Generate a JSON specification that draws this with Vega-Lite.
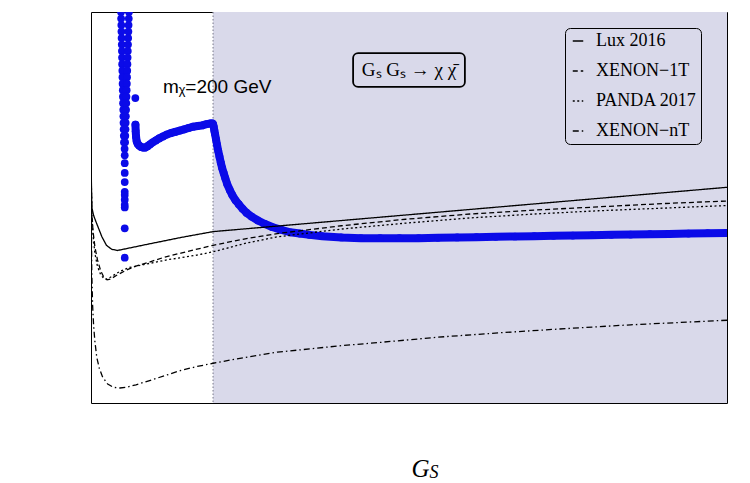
{
  "$schema": "https://vega.github.io/schema/vega-lite/v6.json",
  "width": 636,
  "height": 391,
  "autosize": {"type": "none"},
  "padding": {"left": 91, "top": 12, "right": 23, "bottom": 80},
  "background": "white",
  "datasets": {
    "relic": [
      {"mass": 56.7, "sigma": -41.95, "branch": "res"},
      {"mass": 56.7, "sigma": -42.0, "branch": "res"},
      {"mass": 56.9, "sigma": -42.1, "branch": "res"},
      {"mass": 57.2, "sigma": -42.2, "branch": "res"},
      {"mass": 57.4, "sigma": -42.3, "branch": "res"},
      {"mass": 57.6, "sigma": -42.4, "branch": "res"},
      {"mass": 57.9, "sigma": -42.5, "branch": "res"},
      {"mass": 58.1, "sigma": -42.6, "branch": "res"},
      {"mass": 58.3, "sigma": -42.7, "branch": "res"},
      {"mass": 58.5, "sigma": -42.8, "branch": "res"},
      {"mass": 58.8, "sigma": -42.9, "branch": "res"},
      {"mass": 59.0, "sigma": -43.0, "branch": "res"},
      {"mass": 59.2, "sigma": -43.1, "branch": "res"},
      {"mass": 59.5, "sigma": -43.2, "branch": "res"},
      {"mass": 59.7, "sigma": -43.3, "branch": "res"},
      {"mass": 59.9, "sigma": -43.4, "branch": "res"},
      {"mass": 60.2, "sigma": -43.5, "branch": "res"},
      {"mass": 60.4, "sigma": -43.6, "branch": "res"},
      {"mass": 60.6, "sigma": -43.7, "branch": "res"},
      {"mass": 60.8, "sigma": -43.8, "branch": "res"},
      {"mass": 61.1, "sigma": -43.9, "branch": "res"},
      {"mass": 61.3, "sigma": -44.0, "branch": "res"},
      {"mass": 69.1, "sigma": -41.95, "branch": "res"},
      {"mass": 69.1, "sigma": -42.0, "branch": "res"},
      {"mass": 68.8, "sigma": -42.1, "branch": "res"},
      {"mass": 68.5, "sigma": -42.2, "branch": "res"},
      {"mass": 68.2, "sigma": -42.3, "branch": "res"},
      {"mass": 67.9, "sigma": -42.4, "branch": "res"},
      {"mass": 67.6, "sigma": -42.5, "branch": "res"},
      {"mass": 67.3, "sigma": -42.6, "branch": "res"},
      {"mass": 67.0, "sigma": -42.7, "branch": "res"},
      {"mass": 66.7, "sigma": -42.8, "branch": "res"},
      {"mass": 66.4, "sigma": -42.9, "branch": "res"},
      {"mass": 66.1, "sigma": -43.0, "branch": "res"},
      {"mass": 65.8, "sigma": -43.1, "branch": "res"},
      {"mass": 65.5, "sigma": -43.2, "branch": "res"},
      {"mass": 65.2, "sigma": -43.3, "branch": "res"},
      {"mass": 64.9, "sigma": -43.4, "branch": "res"},
      {"mass": 64.6, "sigma": -43.5, "branch": "res"},
      {"mass": 64.3, "sigma": -43.6, "branch": "res"},
      {"mass": 64.0, "sigma": -43.7, "branch": "res"},
      {"mass": 63.7, "sigma": -43.8, "branch": "res"},
      {"mass": 63.4, "sigma": -43.9, "branch": "res"},
      {"mass": 63.1, "sigma": -44.0, "branch": "res"},
      {"mass": 62.3, "sigma": -44.1, "branch": "res"},
      {"mass": 62.5, "sigma": -44.2, "branch": "res"},
      {"mass": 62.5, "sigma": -44.32, "branch": "res"},
      {"mass": 62.5, "sigma": -44.47, "branch": "res"},
      {"mass": 62.5, "sigma": -44.61, "branch": "res"},
      {"mass": 62.5, "sigma": -44.76, "branch": "res"},
      {"mass": 62.5, "sigma": -44.81, "branch": "res"},
      {"mass": 62.5, "sigma": -44.88, "branch": "res"},
      {"mass": 62.5, "sigma": -44.96, "branch": "res"},
      {"mass": 62.5, "sigma": -45.0, "branch": "res"},
      {"mass": 62.5, "sigma": -45.32, "branch": "res"},
      {"mass": 62.5, "sigma": -45.77, "branch": "res"},
      {"mass": 79.0, "sigma": -43.32, "branch": "res"},
      {"mass": 79.2, "sigma": -43.73, "branch": "main"},
      {"mass": 79.6, "sigma": -43.83, "branch": "main"},
      {"mass": 80.2, "sigma": -43.92, "branch": "main"},
      {"mass": 81.0, "sigma": -43.98, "branch": "main"},
      {"mass": 82.5, "sigma": -44.02, "branch": "main"},
      {"mass": 85.0, "sigma": -44.05, "branch": "main"},
      {"mass": 88.0, "sigma": -44.07, "branch": "main"},
      {"mass": 91.0, "sigma": -44.08, "branch": "main"},
      {"mass": 94.5, "sigma": -44.08, "branch": "main"},
      {"mass": 98.0, "sigma": -44.06, "branch": "main"},
      {"mass": 102.0, "sigma": -44.03, "branch": "main"},
      {"mass": 106.0, "sigma": -44.0, "branch": "main"},
      {"mass": 111.0, "sigma": -43.97, "branch": "main"},
      {"mass": 116.0, "sigma": -43.94, "branch": "main"},
      {"mass": 122.0, "sigma": -43.91, "branch": "main"},
      {"mass": 128.0, "sigma": -43.88, "branch": "main"},
      {"mass": 134.0, "sigma": -43.86, "branch": "main"},
      {"mass": 141.0, "sigma": -43.84, "branch": "main"},
      {"mass": 148.0, "sigma": -43.82, "branch": "main"},
      {"mass": 155.0, "sigma": -43.8, "branch": "main"},
      {"mass": 162.0, "sigma": -43.78, "branch": "main"},
      {"mass": 169.0, "sigma": -43.76, "branch": "main"},
      {"mass": 176.0, "sigma": -43.75, "branch": "main"},
      {"mass": 183.0, "sigma": -43.74, "branch": "main"},
      {"mass": 190.0, "sigma": -43.72, "branch": "main"},
      {"mass": 196.0, "sigma": -43.71, "branch": "main"},
      {"mass": 199.0, "sigma": -43.71, "branch": "main"},
      {"mass": 200.0, "sigma": -43.72, "branch": "main"},
      {"mass": 201.0, "sigma": -43.76, "branch": "main"},
      {"mass": 202.0, "sigma": -43.82, "branch": "main"},
      {"mass": 203.0, "sigma": -43.87, "branch": "main"},
      {"mass": 204.5, "sigma": -43.95, "branch": "main"},
      {"mass": 206.0, "sigma": -44.03, "branch": "main"},
      {"mass": 208.0, "sigma": -44.13, "branch": "main"},
      {"mass": 210.0, "sigma": -44.22, "branch": "main"},
      {"mass": 212.0, "sigma": -44.31, "branch": "main"},
      {"mass": 214.0, "sigma": -44.39, "branch": "main"},
      {"mass": 216.5, "sigma": -44.47, "branch": "main"},
      {"mass": 219.0, "sigma": -44.55, "branch": "main"},
      {"mass": 222.0, "sigma": -44.64, "branch": "main"},
      {"mass": 226.0, "sigma": -44.73, "branch": "main"},
      {"mass": 230.0, "sigma": -44.81, "branch": "main"},
      {"mass": 235.0, "sigma": -44.89, "branch": "main"},
      {"mass": 240.0, "sigma": -44.95, "branch": "main"},
      {"mass": 246.0, "sigma": -45.02, "branch": "main"},
      {"mass": 252.0, "sigma": -45.08, "branch": "main"},
      {"mass": 260.0, "sigma": -45.14, "branch": "main"},
      {"mass": 270.0, "sigma": -45.2, "branch": "main"},
      {"mass": 280.0, "sigma": -45.25, "branch": "main"},
      {"mass": 292.0, "sigma": -45.3, "branch": "main"},
      {"mass": 305.0, "sigma": -45.34, "branch": "main"},
      {"mass": 320.0, "sigma": -45.38, "branch": "main"},
      {"mass": 335.0, "sigma": -45.4, "branch": "main"},
      {"mass": 350.0, "sigma": -45.42, "branch": "main"},
      {"mass": 370.0, "sigma": -45.44, "branch": "main"},
      {"mass": 400.0, "sigma": -45.46, "branch": "main"},
      {"mass": 430.0, "sigma": -45.47, "branch": "main"},
      {"mass": 460.0, "sigma": -45.47, "branch": "main"},
      {"mass": 490.0, "sigma": -45.47, "branch": "main"},
      {"mass": 520.0, "sigma": -45.47, "branch": "main"},
      {"mass": 550.0, "sigma": -45.465, "branch": "main"},
      {"mass": 580.0, "sigma": -45.46, "branch": "main"},
      {"mass": 610.0, "sigma": -45.455, "branch": "main"},
      {"mass": 640.0, "sigma": -45.45, "branch": "main"},
      {"mass": 670.0, "sigma": -45.445, "branch": "main"},
      {"mass": 700.0, "sigma": -45.44, "branch": "main"},
      {"mass": 730.0, "sigma": -45.435, "branch": "main"},
      {"mass": 760.0, "sigma": -45.43, "branch": "main"},
      {"mass": 790.0, "sigma": -45.425, "branch": "main"},
      {"mass": 820.0, "sigma": -45.42, "branch": "main"},
      {"mass": 850.0, "sigma": -45.415, "branch": "main"},
      {"mass": 880.0, "sigma": -45.41, "branch": "main"},
      {"mass": 910.0, "sigma": -45.405, "branch": "main"},
      {"mass": 940.0, "sigma": -45.4, "branch": "main"},
      {"mass": 970.0, "sigma": -45.395, "branch": "main"},
      {"mass": 1000.0, "sigma": -45.39, "branch": "main"}
    ],
    "limits": [
      {"experiment": "Lux 2016", "mass": 10, "sigma": -43.75},
      {"experiment": "Lux 2016", "mass": 10.6, "sigma": -44.6},
      {"experiment": "Lux 2016", "mass": 11.3, "sigma": -45.0},
      {"experiment": "Lux 2016", "mass": 14, "sigma": -45.12},
      {"experiment": "Lux 2016", "mass": 17, "sigma": -45.2},
      {"experiment": "Lux 2016", "mass": 21, "sigma": -45.3},
      {"experiment": "Lux 2016", "mass": 27, "sigma": -45.45},
      {"experiment": "Lux 2016", "mass": 34, "sigma": -45.58},
      {"experiment": "Lux 2016", "mass": 42, "sigma": -45.64},
      {"experiment": "Lux 2016", "mass": 51, "sigma": -45.66},
      {"experiment": "Lux 2016", "mass": 100, "sigma": -45.56},
      {"experiment": "Lux 2016", "mass": 150, "sigma": -45.46},
      {"experiment": "Lux 2016", "mass": 200, "sigma": -45.37},
      {"experiment": "Lux 2016", "mass": 400, "sigma": -45.2},
      {"experiment": "Lux 2016", "mass": 600, "sigma": -45.03},
      {"experiment": "Lux 2016", "mass": 800, "sigma": -44.86},
      {"experiment": "Lux 2016", "mass": 1000, "sigma": -44.69},
      {"experiment": "XENON−1T", "mass": 10, "sigma": -43.8},
      {"experiment": "XENON−1T", "mass": 10.6, "sigma": -44.7},
      {"experiment": "XENON−1T", "mass": 11.3, "sigma": -45.05},
      {"experiment": "XENON−1T", "mass": 13, "sigma": -45.35},
      {"experiment": "XENON−1T", "mass": 16, "sigma": -45.6},
      {"experiment": "XENON−1T", "mass": 20, "sigma": -45.8},
      {"experiment": "XENON−1T", "mass": 25, "sigma": -45.97},
      {"experiment": "XENON−1T", "mass": 30, "sigma": -46.07},
      {"experiment": "XENON−1T", "mass": 35, "sigma": -46.11},
      {"experiment": "XENON−1T", "mass": 40, "sigma": -46.1},
      {"experiment": "XENON−1T", "mass": 50, "sigma": -46.04},
      {"experiment": "XENON−1T", "mass": 65, "sigma": -45.96},
      {"experiment": "XENON−1T", "mass": 80, "sigma": -45.9},
      {"experiment": "XENON−1T", "mass": 100, "sigma": -45.84},
      {"experiment": "XENON−1T", "mass": 125, "sigma": -45.76},
      {"experiment": "XENON−1T", "mass": 150, "sigma": -45.7},
      {"experiment": "XENON−1T", "mass": 175, "sigma": -45.64},
      {"experiment": "XENON−1T", "mass": 200, "sigma": -45.58},
      {"experiment": "XENON−1T", "mass": 250, "sigma": -45.48},
      {"experiment": "XENON−1T", "mass": 300, "sigma": -45.4},
      {"experiment": "XENON−1T", "mass": 400, "sigma": -45.28},
      {"experiment": "XENON−1T", "mass": 500, "sigma": -45.18},
      {"experiment": "XENON−1T", "mass": 600, "sigma": -45.1},
      {"experiment": "XENON−1T", "mass": 700, "sigma": -45.04},
      {"experiment": "XENON−1T", "mass": 800, "sigma": -44.99},
      {"experiment": "XENON−1T", "mass": 900, "sigma": -44.94},
      {"experiment": "XENON−1T", "mass": 1000, "sigma": -44.9},
      {"experiment": "PANDA 2017", "mass": 10, "sigma": -43.8},
      {"experiment": "PANDA 2017", "mass": 10.6, "sigma": -44.7},
      {"experiment": "PANDA 2017", "mass": 11.3, "sigma": -45.05},
      {"experiment": "PANDA 2017", "mass": 13, "sigma": -45.4},
      {"experiment": "PANDA 2017", "mass": 16, "sigma": -45.7},
      {"experiment": "PANDA 2017", "mass": 20, "sigma": -45.9},
      {"experiment": "PANDA 2017", "mass": 25, "sigma": -46.03},
      {"experiment": "PANDA 2017", "mass": 30, "sigma": -46.09},
      {"experiment": "PANDA 2017", "mass": 35, "sigma": -46.1},
      {"experiment": "PANDA 2017", "mass": 42, "sigma": -46.06},
      {"experiment": "PANDA 2017", "mass": 55, "sigma": -45.98},
      {"experiment": "PANDA 2017", "mass": 70, "sigma": -45.92},
      {"experiment": "PANDA 2017", "mass": 90, "sigma": -45.88},
      {"experiment": "PANDA 2017", "mass": 110, "sigma": -45.84},
      {"experiment": "PANDA 2017", "mass": 130, "sigma": -45.8},
      {"experiment": "PANDA 2017", "mass": 150, "sigma": -45.77},
      {"experiment": "PANDA 2017", "mass": 175, "sigma": -45.73},
      {"experiment": "PANDA 2017", "mass": 200, "sigma": -45.68},
      {"experiment": "PANDA 2017", "mass": 250, "sigma": -45.55},
      {"experiment": "PANDA 2017", "mass": 300, "sigma": -45.45},
      {"experiment": "PANDA 2017", "mass": 400, "sigma": -45.33},
      {"experiment": "PANDA 2017", "mass": 500, "sigma": -45.24},
      {"experiment": "PANDA 2017", "mass": 600, "sigma": -45.16},
      {"experiment": "PANDA 2017", "mass": 700, "sigma": -45.1},
      {"experiment": "PANDA 2017", "mass": 800, "sigma": -45.05},
      {"experiment": "PANDA 2017", "mass": 900, "sigma": -45.01},
      {"experiment": "PANDA 2017", "mass": 1000, "sigma": -44.97},
      {"experiment": "XENON−nT", "mass": 10, "sigma": -43.8},
      {"experiment": "XENON−nT", "mass": 10.5, "sigma": -45.2},
      {"experiment": "XENON−nT", "mass": 11.2, "sigma": -46.0},
      {"experiment": "XENON−nT", "mass": 12.5, "sigma": -46.5},
      {"experiment": "XENON−nT", "mass": 14, "sigma": -46.8},
      {"experiment": "XENON−nT", "mass": 16, "sigma": -47.05},
      {"experiment": "XENON−nT", "mass": 19, "sigma": -47.3},
      {"experiment": "XENON−nT", "mass": 23, "sigma": -47.47},
      {"experiment": "XENON−nT", "mass": 28, "sigma": -47.6},
      {"experiment": "XENON−nT", "mass": 36, "sigma": -47.71},
      {"experiment": "XENON−nT", "mass": 45, "sigma": -47.76},
      {"experiment": "XENON−nT", "mass": 55, "sigma": -47.77},
      {"experiment": "XENON−nT", "mass": 65, "sigma": -47.76},
      {"experiment": "XENON−nT", "mass": 80, "sigma": -47.72},
      {"experiment": "XENON−nT", "mass": 100, "sigma": -47.66},
      {"experiment": "XENON−nT", "mass": 125, "sigma": -47.58},
      {"experiment": "XENON−nT", "mass": 150, "sigma": -47.5},
      {"experiment": "XENON−nT", "mass": 175, "sigma": -47.44},
      {"experiment": "XENON−nT", "mass": 200, "sigma": -47.39},
      {"experiment": "XENON−nT", "mass": 250, "sigma": -47.3},
      {"experiment": "XENON−nT", "mass": 300, "sigma": -47.22},
      {"experiment": "XENON−nT", "mass": 400, "sigma": -47.12},
      {"experiment": "XENON−nT", "mass": 460, "sigma": -47.07},
      {"experiment": "XENON−nT", "mass": 550, "sigma": -46.99},
      {"experiment": "XENON−nT", "mass": 650, "sigma": -46.92},
      {"experiment": "XENON−nT", "mass": 730, "sigma": -46.87},
      {"experiment": "XENON−nT", "mass": 850, "sigma": -46.8},
      {"experiment": "XENON−nT", "mass": 1000, "sigma": -46.73}
    ]
  },
  "layer": [
    {
      "data": {"values": [{}]},
      "mark": {"type": "rect", "color": "#d9d9ea"},
      "encoding": {
        "x": {
          "datum": 200,
          "type": "quantitative",
          "scale": {"domain": [10, 1000], "nice": false, "zero": false},
          "axis": {
            "orient": "bottom",
            "zindex": 1,
            "values": [50, 100, 150, 200, 250, 300, 350, 400, 450, 500, 550, 600, 650, 700, 750, 800, 850, 900, 950, 1000],
            "labelExpr": "datum.value % 200 === 0 ? datum.value : ''",
            "labelOverlap": false,
            "ticks": true,
            "tickColor": "black",
            "tickWidth": 1,
            "tickSize": -5,
            "labelPadding": 9,
            "title": "m",
            "titleFont": "Liberation Serif",
            "titleFontStyle": "italic",
            "titleFontWeight": "normal",
            "titleFontSize": 42,
            "titleX": 305,
            "titleY": 65,
            "titleAlign": "center",
            "titleBaseline": "alphabetic"
          }
        },
        "x2": {"datum": 1000},
        "y": {
          "datum": -48,
          "type": "quantitative",
          "scale": {"domain": [-48, -42], "nice": false, "zero": false},
          "axis": {
            "orient": "left",
            "zindex": 1,
            "values": [-48, -47.8, -47.6, -47.4, -47.2, -47, -46.8, -46.6, -46.4, -46.2, -46, -45.8, -45.6, -45.4, -45.2, -45, -44.8, -44.6, -44.4, -44.2, -44, -43.8, -43.6, -43.4, -43.2, -43, -42.8, -42.6, -42.4, -42.2, -42],
            "labelExpr": "abs(datum.value - round(datum.value)) < 0.01 ? '-' + abs(round(datum.value)) : ''",
            "labelOverlap": false,
            "ticks": true,
            "tickColor": "black",
            "tickWidth": 1,
            "tickSize": -5,
            "labelPadding": 12,
            "title": "Log₁₀σₙ[cm²]",
            "titleFont": "Liberation Serif",
            "titleFontWeight": "normal",
            "titleFontSize": 35,
            "titleAngle": 270,
            "titleX": -57,
            "titleY": 196,
            "titleAlign": "center",
            "titleBaseline": "alphabetic"
          }
        },
        "y2": {"datum": -42}
      }
    },
    {
      "data": {"values": [{}]},
      "mark": {"type": "rule", "color": "#8a8a9a", "strokeDash": [1.5, 2], "strokeWidth": 1.2},
      "encoding": {
        "x": {"datum": 200, "type": "quantitative", "axis": null}
      }
    },
    {
      "data": {"name": "relic"},
      "transform": [{"filter": "datum.branch === 'main'"}],
      "mark": {"type": "line", "color": "#0b0be8", "strokeWidth": 8, "strokeCap": "round", "strokeJoin": "round", "clip": true},
      "encoding": {
        "x": {"field": "mass", "type": "quantitative", "axis": null},
        "y": {"field": "sigma", "type": "quantitative", "axis": null},
        "order": {"field": "mass"}
      }
    },
    {
      "data": {"name": "relic"},
      "mark": {"type": "circle", "color": "#0b0be8", "size": 60, "opacity": 1, "clip": true},
      "encoding": {
        "x": {"field": "mass", "type": "quantitative", "axis": null},
        "y": {"field": "sigma", "type": "quantitative", "axis": null}
      }
    },
    {
      "data": {"name": "limits"},
      "mark": {"type": "line", "color": "black", "strokeWidth": 1.3, "clip": true},
      "encoding": {
        "x": {"field": "mass", "type": "quantitative", "axis": null},
        "y": {"field": "sigma", "type": "quantitative", "axis": null},
        "order": {"field": "mass"},
        "strokeDash": {
          "field": "experiment",
          "type": "nominal",
          "scale": {
            "domain": ["Lux 2016", "XENON−1T", "PANDA 2017", "XENON−nT"],
            "range": [[1, 0], [5, 3], [2, 2.5], [6, 3, 1.5, 3]]
          },
          "legend": {
            "orient": "none",
            "legendX": 474,
            "legendY": 16,
            "title": null,
            "symbolType": "stroke",
            "symbolSize": 110,
            "symbolStrokeWidth": 1.5,
            "symbolStrokeColor": "black",
            "labelFont": "Liberation Serif",
            "labelFontSize": 18,
            "labelColor": "black",
            "labelOffset": 9,
            "rowPadding": 12,
            "padding": 4,
            "strokeColor": "black",
            "cornerRadius": 5
          }
        }
      }
    },
    {
      "data": {"values": [{}]},
      "mark": {"type": "rect", "fill": "#d9d9ea", "stroke": "black", "strokeWidth": 1.8, "cornerRadius": 5},
      "encoding": {
        "x": {"datum": 418, "type": "quantitative", "axis": null},
        "x2": {"datum": 592},
        "y": {"datum": -42.63, "type": "quantitative", "axis": null},
        "y2": {"datum": -43.15}
      }
    },
    {
      "data": {"values": [{}]},
      "mark": {"type": "text", "text": "Gₛ Gₛ → χ χ̄", "font": "Liberation Serif", "fontSize": 19, "align": "center", "baseline": "middle", "color": "black"},
      "encoding": {
        "x": {"datum": 505, "type": "quantitative", "axis": null},
        "y": {"datum": -42.89, "type": "quantitative", "axis": null}
      }
    },
    {
      "data": {"values": [{}]},
      "mark": {"type": "text", "text": "mᵪ=200 GeV", "font": "Liberation Sans", "fontSize": 19, "align": "left", "baseline": "alphabetic", "color": "black"},
      "encoding": {
        "x": {"datum": 122, "type": "quantitative", "axis": null},
        "y": {"datum": -43.24, "type": "quantitative", "axis": null}
      }
    },
    {
      "data": {"values": [{}]},
      "mark": {"type": "text", "text": "G", "font": "Liberation Serif", "fontStyle": "italic", "fontSize": 25, "align": "left", "baseline": "alphabetic", "color": "black"},
      "encoding": {
        "x": {"datum": 509, "type": "quantitative", "axis": null},
        "y": {"datum": -49.13, "type": "quantitative", "axis": null}
      }
    },
    {
      "data": {"values": [{}]},
      "mark": {"type": "text", "text": "S", "font": "Liberation Serif", "fontStyle": "italic", "fontSize": 18, "align": "left", "baseline": "alphabetic", "color": "black"},
      "encoding": {
        "x": {"datum": 537, "type": "quantitative", "axis": null},
        "y": {"datum": -49.15, "type": "quantitative", "axis": null}
      }
    }
  ],
  "config": {
    "view": {"stroke": "black", "strokeWidth": 1},
    "axis": {
      "labelFont": "Liberation Serif",
      "labelFontWeight": "bold",
      "labelFontSize": 19,
      "labelColor": "black",
      "domain": false,
      "grid": false,
      "titleColor": "black"
    },
    "legend": {"strokeWidth": 1}
  }
}
